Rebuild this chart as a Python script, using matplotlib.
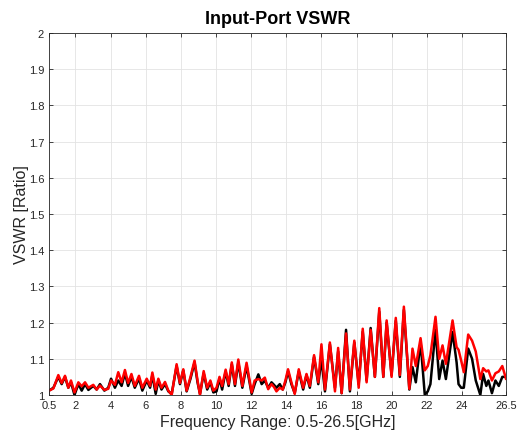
import matplotlib
matplotlib.use("Agg")
import matplotlib.pyplot as plt

# frequency points (GHz)
freq = [0.5, 0.75, 1.03, 1.22, 1.41, 1.6, 1.75, 1.95, 2.17, 2.36, 2.55, 2.74, 3.02, 3.21, 3.4, 3.65,
        3.87, 4.03, 4.25, 4.44, 4.63, 4.82, 5.0, 5.19, 5.38, 5.62, 5.81, 6.06, 6.25, 6.38, 6.57, 6.72,
        6.9, 7.1, 7.29, 7.48, 7.76, 7.95, 8.14, 8.33, 8.55, 8.78, 8.95, 9.09, 9.3, 9.5, 9.68, 9.85,
        10.03, 10.2, 10.35, 10.55, 10.72, 10.9, 11.08, 11.27, 11.5, 11.74, 12.03, 12.2, 12.41, 12.6,
        12.78, 12.97, 13.16, 13.3, 13.44, 13.63, 13.8, 13.95, 14.1, 14.29, 14.48, 14.71, 14.96, 15.15,
        15.34, 15.58, 15.82, 16.0, 16.2, 16.48, 16.77, 16.95, 17.15, 17.4, 17.62, 17.87, 18.12, 18.35,
        18.57, 18.8, 19.04, 19.29, 19.52, 19.71, 19.99, 20.23, 20.46, 20.69, 21.0, 21.18, 21.37, 21.64,
        21.88, 22.05, 22.2, 22.49, 22.7, 22.89, 23.08, 23.46, 23.69, 23.8, 23.95, 24.1, 24.35, 24.57,
        24.78, 25.04, 25.2, 25.38, 25.5, 25.7, 25.9, 26.09, 26.29, 26.5]

# red trace
vswr_red = [1.012, 1.018, 1.055, 1.033, 1.053, 1.02, 1.04, 1.007, 1.035, 1.024, 1.035, 1.02, 1.028, 1.015, 1.026, 1.014,
            1.017, 1.04, 1.028, 1.063, 1.035, 1.069, 1.033, 1.058, 1.025, 1.053, 1.02, 1.045, 1.025, 1.062, 1.015, 1.045,
            1.02, 1.036, 1.012, 1.0, 1.085, 1.033, 1.071, 1.012, 1.05, 1.095, 1.04, 1.0, 1.066, 1.02, 1.04, 1.012,
            1.02, 1.05, 1.025, 1.07, 1.03, 1.09, 1.03, 1.098, 1.025, 1.089, 1.007, 1.04, 1.044, 1.04,
            1.048, 1.016, 1.03, 1.022, 1.01, 1.02, 1.015, 1.04, 1.071, 1.035, 1.003, 1.071, 1.02, 1.058,
            1.025, 1.11, 1.035, 1.14, 1.015, 1.145, 1.01, 1.13, 1.005, 1.17, 1.015, 1.15, 1.02, 1.183,
            1.035, 1.18, 1.05, 1.24, 1.05, 1.206, 1.05, 1.213, 1.055, 1.244, 1.017, 1.128, 1.08, 1.157,
            1.068, 1.08, 1.11, 1.216, 1.1, 1.137, 1.086, 1.206, 1.132, 1.125, 1.095, 1.063, 1.167, 1.15,
            1.12, 1.044, 1.074, 1.065, 1.068, 1.04, 1.06, 1.065, 1.08, 1.045]

# black trace
vswr_black = [1.012, 1.02, 1.05, 1.03, 1.05, 1.02, 1.035, 1.0, 1.03, 1.012, 1.03, 1.014, 1.025, 1.015, 1.03, 1.012,
              1.02, 1.045, 1.02, 1.04, 1.025, 1.06, 1.025, 1.05, 1.02, 1.045, 1.012, 1.04, 1.02, 1.055, 1.003, 1.04,
              1.015, 1.03, 1.01, 1.003, 1.08, 1.03, 1.068, 1.01, 1.045, 1.09, 1.035, 1.003, 1.06, 1.015, 1.035, 1.007,
              1.01, 1.045, 1.015, 1.065, 1.025, 1.085, 1.025, 1.09, 1.02, 1.08, 1.003, 1.03, 1.057, 1.03,
              1.04, 1.02, 1.035, 1.028, 1.02, 1.03, 1.015, 1.035, 1.065, 1.03, 1.005, 1.065, 1.015, 1.055,
              1.02, 1.105, 1.03, 1.1, 1.01, 1.14, 1.02, 1.12, 1.005, 1.18, 1.01, 1.145, 1.03, 1.175,
              1.04, 1.185, 1.05, 1.23, 1.05, 1.2, 1.055, 1.205, 1.05, 1.235, 1.015, 1.077, 1.035, 1.146,
              1.0, 1.01, 1.03, 1.18, 1.044, 1.095, 1.044, 1.174, 1.09, 1.03, 1.02, 1.02, 1.128, 1.1,
              1.04, 1.0, 1.058, 1.025, 1.04, 1.005, 1.04, 1.025, 1.05, 1.05]

xticks = [0.5, 2, 4, 6, 8, 10, 12, 14, 16, 18, 20, 22, 24, 26.5]
yticks = [1, 1.1, 1.2, 1.3, 1.4, 1.5, 1.6, 1.7, 1.8, 1.9, 2]

plt.rcParams['font.family'] = ['Liberation Sans', 'DejaVu Sans']

fig = plt.figure(figsize=(5.17, 4.35), dpi=100)
ax = fig.add_axes([0.0948, 0.0897, 0.8839, 0.8321])

ax.plot(freq, vswr_black, color='black', linewidth=1.8)
ax.plot(freq, vswr_red, color='red', linewidth=1.8)

ax.set_xlim(0.5, 26.5)
ax.set_ylim(1, 2)
ax.set_xticks(xticks)
ax.set_xticklabels([str(t) for t in xticks])
ax.set_yticks(yticks)
ax.set_yticklabels(['1', '1.1', '1.2', '1.3', '1.4', '1.5', '1.6', '1.7', '1.8', '1.9', '2'])
ax.tick_params(direction='in', length=3, width=0.6, colors='#262626', labelsize=8,
               top=True, right=True)
ax.grid(True, color='#e3e3e3', linewidth=0.6)
ax.set_axisbelow(True)
for s in ax.spines.values():
    s.set_color('#262626')
    s.set_linewidth(0.6)

ax.set_title('Input-Port VSWR', fontsize=13, fontweight='bold', pad=7)
ax.set_xlabel('Frequency Range: 0.5-26.5[GHz]', fontsize=11.5, color='#262626', labelpad=3)
ax.set_ylabel('VSWR [Ratio]', fontsize=11.5, color='#262626', labelpad=0)

fig.savefig('out.png', dpi=100)
